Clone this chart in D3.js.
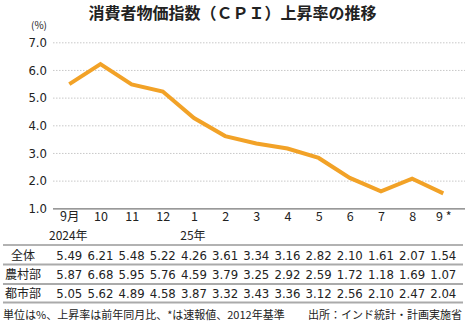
<!DOCTYPE html>
<html><head><meta charset="utf-8">
<script src="https://cdn.jsdelivr.net/npm/d3@7"></script>
<style>
body{margin:0;background:#fff;}
svg{display:block;}
</style></head>
<body><svg id="c" width="465" height="324"></svg>
<script>
const title = "消費者物価指数（ＣＰＩ）上昇率の推移";
const months = ["9月","10","11","12","1","2","3","4","5","6","7","8","9 *"];
const yearLabels = [{i:0,t:"2024年"},{i:4,t:"25年"}];
const overall = [5.49,6.21,5.48,5.22,4.26,3.61,3.34,3.16,2.82,2.10,1.61,2.07,1.54];
const rural   = [5.87,6.68,5.95,5.76,4.59,3.79,3.25,2.92,2.59,1.72,1.18,1.69,1.07];
const urban   = [5.05,5.62,4.89,4.58,3.87,3.32,3.43,3.36,3.12,2.56,2.10,2.47,2.04];
const rowNames = ["全体","農村部","都市部"];
const yTicks = [1,2,3,4,5,6,7];
const unitLabel = "(%)";
const footLeft = "単位は%、上昇率は前年同月比、*は速報値、2012年基準";
const footRight = "出所：インド統計・計画実施省";

const svg = d3.select("#c");
const jp = "'Noto Sans CJK JP', sans-serif";
const num = "'Liberation Sans Narrow', 'DejaVu Sans Condensed', sans-serif";

const x = d3.scalePoint().domain(d3.range(months.length)).range([69.3, 443.3]);
const y = d3.scaleLinear().domain([1,7]).range([208.3, 42.3]);

svg.append("text").attr("x",232.5).attr("y",18.5).attr("text-anchor","middle")
  .attr("font-family",jp).attr("font-weight","bold").attr("font-size",16).attr("fill","#222").text(title);
svg.append("text").attr("x",39).attr("y",29).attr("text-anchor","middle")
  .attr("font-family",jp).attr("font-size",10).attr("fill","#222").text(unitLabel);

// grid
const yAxis = d3.axisLeft(y).tickValues(yTicks).tickFormat(d3.format(".1f")).tickSize(0).tickPadding(6);
const gy = svg.append("g").attr("transform","translate(53,0)").call(yAxis);
gy.select(".domain").remove();
gy.selectAll("text").attr("font-family",num).attr("font-size",13).attr("fill","#222");
gy.selectAll(".tick").append("line")
  .attr("x1",0).attr("x2",412)
  .attr("stroke", d => d===1 ? "#777" : "#bbb")
  .attr("stroke-width", d => d===1 ? 1.2 : 0.8)
  .attr("stroke-dasharray", d => d===1 ? null : "1.5,1.5");

// line
svg.append("path").datum(overall)
  .attr("d", d3.line().x((d,i)=>x(i)).y(d=>y(d)))
  .attr("fill","none").attr("stroke","#F2A227").attr("stroke-width",4).attr("stroke-linejoin","miter");

// x labels
const xAxis = d3.axisBottom(x).tickFormat(i=>months[i]).tickSize(0).tickPadding(0);
const gx = svg.append("g").attr("transform","translate(0,221)").call(xAxis);
gx.select(".domain").remove();
gx.selectAll("text").attr("dy",0).attr("font-family",jp).attr("font-size",12.5).attr("fill","#222");
svg.selectAll(".yl").data(yearLabels).join("text")
  .attr("x",d=>x(d.i)-1).attr("y",240).attr("text-anchor","middle")
  .attr("font-family",jp).attr("font-size",12).attr("fill","#222").text(d=>d.t);

// table
const rows = [overall, rural, urban];
const rowY = [259.5, 279, 298];
const lineY = [245, 264.5, 284, 302.5];
lineY.forEach((ly,k)=>{
  svg.append("line").attr("x1",3).attr("x2",463).attr("y1",ly).attr("y2",ly)
    .attr("stroke", k===0 ? "#666" : "#aaa").attr("stroke-width", k===0 ? 1.2 : 2);
});
rows.forEach((r,k)=>{
  svg.append("text").attr("x",23).attr("y",rowY[k]).attr("text-anchor","middle")
    .attr("font-family",jp).attr("font-size",12).attr("fill","#222").text(rowNames[k]);
  svg.selectAll(".v"+k).data(r).join("text")
    .attr("x",(d,i)=>x(i)).attr("y",rowY[k]).attr("text-anchor","middle")
    .attr("font-family",num).attr("font-size",13).attr("fill","#222").text(d=>d.toFixed(2));
});

svg.append("text").attr("x",3).attr("y",318.5).attr("font-family",jp).attr("font-size",11).attr("fill","#222").text(footLeft);
svg.append("text").attr("x",462).attr("y",318.5).attr("text-anchor","end").attr("font-family",jp).attr("font-size",11).attr("fill","#222").text(footRight);
</script></body></html>
